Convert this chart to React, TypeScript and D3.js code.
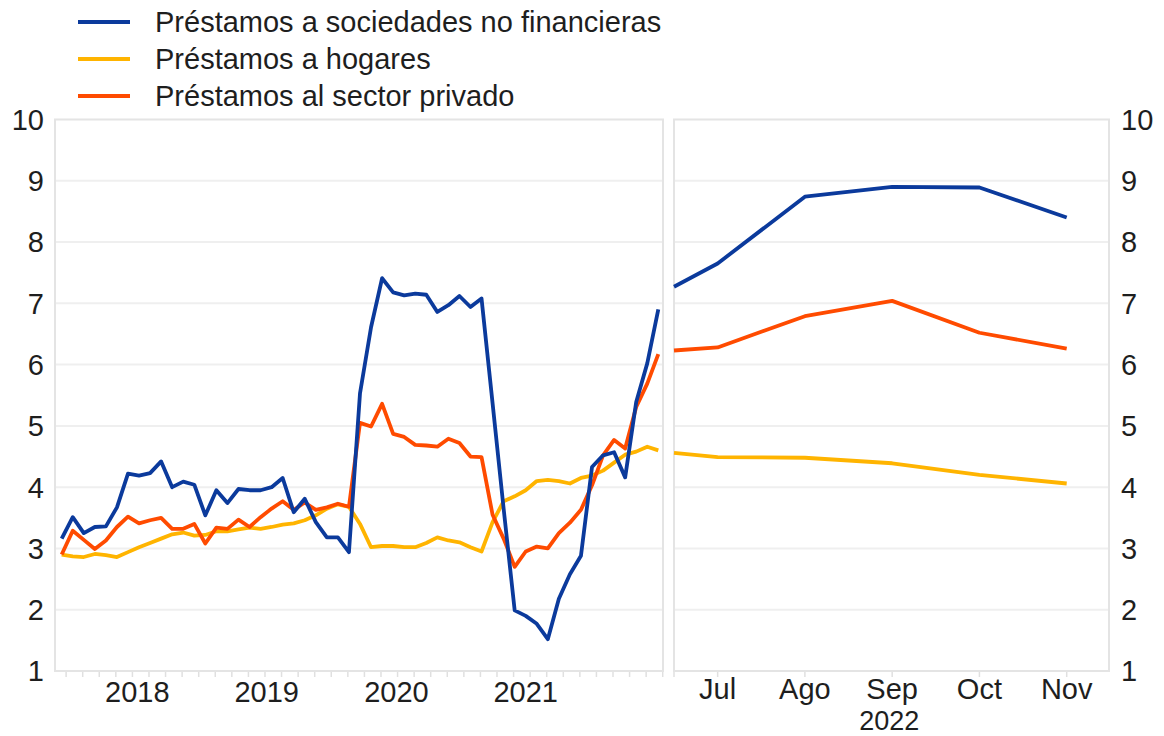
import { useEffect, useRef } from "react"
import * as d3 from "d3"

// monthly, Dec 2017 - Jun 2022 (year-on-year %)
const nfcLoans = [
  3.16, 3.51, 3.25, 3.35, 3.36, 3.67, 4.22, 4.19, 4.23, 4.42, 4.0, 4.09, 4.04, 3.54, 3.95, 3.74,
  3.97, 3.95, 3.95, 4.0, 4.15, 3.59, 3.81, 3.43, 3.18, 3.18, 2.94, 5.53, 6.61, 7.41, 7.18, 7.13,
  7.16, 7.14, 6.86, 6.97, 7.12, 6.94, 7.08, 5.37, 3.65, 1.99, 1.9, 1.77, 1.52, 2.18, 2.58, 2.88,
  4.33, 4.52, 4.57, 4.16, 5.39, 6.02, 6.9,
]
const householdLoans = [
  2.9, 2.87, 2.86, 2.91, 2.89, 2.86, 2.94, 3.02, 3.09, 3.16, 3.23, 3.26, 3.21, 3.22, 3.28, 3.28,
  3.31, 3.34, 3.32, 3.35, 3.39, 3.41, 3.46, 3.54, 3.65, 3.72, 3.68, 3.4, 3.02, 3.04, 3.04, 3.02,
  3.02, 3.09, 3.18, 3.13, 3.1, 3.02, 2.95, 3.43, 3.77, 3.85, 3.95, 4.1, 4.12, 4.1, 4.06, 4.15,
  4.19, 4.27, 4.4, 4.53, 4.58, 4.66, 4.6,
]
const privateLoans = [
  2.9, 3.29, 3.14, 2.99, 3.13, 3.35, 3.52, 3.41, 3.46, 3.5, 3.32, 3.32, 3.4, 3.08, 3.34, 3.32,
  3.47, 3.35, 3.51, 3.65, 3.77, 3.63, 3.75, 3.63, 3.67, 3.73, 3.68, 5.05, 4.99, 5.36, 4.87, 4.82,
  4.69, 4.68, 4.66, 4.79, 4.72, 4.5, 4.49, 3.55, 3.16, 2.7, 2.95, 3.03, 3.0, 3.25, 3.42, 3.63,
  4.03, 4.52, 4.77, 4.63, 5.31, 5.69, 6.17,
]

// 2022 panel: end of June, then Jul..Nov
const recentPos = [-0.5, 0, 1, 2, 3, 4]
const recentMonths = ["Jul", "Ago", "Sep", "Oct", "Nov"]
const nfcRecent = [7.27, 7.65, 8.74, 8.9, 8.89, 8.4]
const householdRecent = [4.56, 4.49, 4.48, 4.39, 4.2, 4.06]
const privateRecent = [6.23, 6.28, 6.79, 7.04, 6.52, 6.26]

const yearLabels = ["2018", "2019", "2020", "2021"]
const yearLabelPos = [6.85, 18.55, 30.3, 42.0]
const yTicks = [1, 2, 3, 4, 5, 6, 7, 8, 9, 10]

const seriesNames = [
  "Préstamos a sociedades no financieras",
  "Préstamos a hogares",
  "Préstamos al sector privado",
]
const colors = ["#0b3a9c", "#ffb400", "#ff4b00"]

export default function App() {
  const svgRef = useRef<SVGSVGElement>(null)

  useEffect(() => {
    if (!svgRef.current) return
    d3.select(svgRef.current).selectAll("*").remove()

    const svg = d3.select(svgRef.current)
    const font = "'Liberation Sans', Arial, sans-serif"
    const fontSize = "29px"
    const textColor = "#1e1e1e"

    const top = 119.5
    const bottom = 671
    const y = d3.scaleLinear().domain([1, 10]).range([bottom, top])

    const leftPanel = { x0: 55, x1: 663 }
    const rightPanel = { x0: 674, x1: 1109 }

    const xLeft = d3.scaleLinear().domain([0, 54]).range([61.7, 658.3])
    const xRight = d3.scaleLinear().domain([-0.5, 4]).range([674, 1066.7])

    // panels: grid + frame
    ;[leftPanel, rightPanel].forEach((p) => {
      const g = svg.append("g")
      g.selectAll("line.grid")
        .data(yTicks.slice(1, -1))
        .enter()
        .append("line")
        .attr("x1", p.x0)
        .attr("x2", p.x1)
        .attr("y1", (d) => y(d))
        .attr("y2", (d) => y(d))
        .attr("stroke", "#efefef")
        .attr("stroke-width", 2)
      g.append("rect")
        .attr("x", p.x0)
        .attr("y", top)
        .attr("width", p.x1 - p.x0)
        .attr("height", bottom - top)
        .attr("fill", "none")
        .attr("stroke", "#e4e4e4")
        .attr("stroke-width", 2)
    })

    // small ticks under the axes
    svg
      .append("g")
      .selectAll("line")
      .data(d3.range(0.4, 55, 1.5))
      .enter()
      .append("line")
      .attr("x1", (d) => xLeft(d))
      .attr("x2", (d) => xLeft(d))
      .attr("y1", bottom + 1)
      .attr("y2", bottom + 6)
      .attr("stroke", "#e0e0e0")
      .attr("stroke-width", 1.5)
    svg
      .append("g")
      .selectAll("line")
      .data(recentPos)
      .enter()
      .append("line")
      .attr("x1", (d) => xRight(d))
      .attr("x2", (d) => xRight(d))
      .attr("y1", bottom + 1)
      .attr("y2", bottom + 6)
      .attr("stroke", "#e0e0e0")
      .attr("stroke-width", 1.5)

    // y labels
    const yLab = (x: number, anchor: string) =>
      svg
        .append("g")
        .selectAll("text")
        .data(yTicks)
        .enter()
        .append("text")
        .attr("x", x)
        .attr("y", (d) => y(d))
        .attr("dy", "0.36em")
        .attr("text-anchor", anchor)
        .attr("fill", textColor)
        .style("font-family", font)
        .style("font-size", fontSize)
        .text((d) => d)
    yLab(44, "end")
    yLab(1121, "start")

    // x labels
    svg
      .append("g")
      .selectAll("text")
      .data(yearLabels)
      .enter()
      .append("text")
      .attr("x", (d, i) => xLeft(yearLabelPos[i]))
      .attr("y", 702)
      .attr("text-anchor", "middle")
      .attr("fill", textColor)
      .style("font-family", font)
      .style("font-size", fontSize)
      .text((d) => d)
    svg
      .append("g")
      .selectAll("text")
      .data(recentMonths)
      .enter()
      .append("text")
      .attr("x", (d, i) => xRight(i))
      .attr("y", 699)
      .attr("text-anchor", "middle")
      .attr("fill", textColor)
      .style("font-family", font)
      .style("font-size", fontSize)
      .text((d) => d)
    svg
      .append("text")
      .attr("x", xRight(2) - 3)
      .attr("y", 730)
      .attr("text-anchor", "middle")
      .attr("fill", textColor)
      .style("font-family", font)
      .style("font-size", "27px")
      .text("2022")

    // lines
    const leftSeries = [nfcLoans, householdLoans, privateLoans]
    const rightSeries = [nfcRecent, householdRecent, privateRecent]
    const drawOrder = [1, 2, 0]

    const lineLeft = d3
      .line<number>()
      .x((d, i) => xLeft(i))
      .y((d) => y(d))
    const lineRight = d3
      .line<number>()
      .x((d, i) => xRight(recentPos[i]))
      .y((d) => y(d))

    drawOrder.forEach((k) => {
      svg
        .append("path")
        .attr("d", lineLeft(leftSeries[k]))
        .attr("fill", "none")
        .attr("stroke", colors[k])
        .attr("stroke-width", 3.8)
        .attr("stroke-linejoin", "round")
      svg
        .append("path")
        .attr("d", lineRight(rightSeries[k]))
        .attr("fill", "none")
        .attr("stroke", colors[k])
        .attr("stroke-width", 3.8)
        .attr("stroke-linejoin", "round")
    })

    // legend
    const legend = svg
      .append("g")
      .selectAll("g")
      .data(seriesNames)
      .enter()
      .append("g")
      .attr("transform", (d, i) => `translate(0, ${22 + i * 37})`)
    legend
      .append("line")
      .attr("x1", 78)
      .attr("x2", 130)
      .attr("stroke", (d, i) => colors[i])
      .attr("stroke-width", 4)
    legend
      .append("text")
      .attr("x", 155)
      .attr("dy", "0.36em")
      .attr("fill", textColor)
      .style("font-family", font)
      .style("font-size", fontSize)
      .text((d) => d)
  }, [])

  return (
    <svg
      ref={svgRef}
      width={1164}
      height={736}
      style={{ position: "absolute", left: 0, top: 0, background: "#fff" }}
    ></svg>
  )
}
